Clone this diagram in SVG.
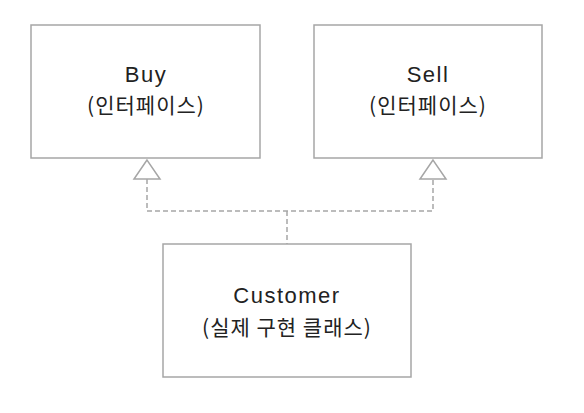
<svg xmlns="http://www.w3.org/2000/svg" width="584" height="413" viewBox="0 0 584 413">
<style>
.box{fill:#fff;stroke:#a6a6a6;stroke-width:1.5}
.t{font-family:"Noto Sans CJK KR","Liberation Sans",sans-serif;font-size:21px;font-weight:400;fill:#222;text-anchor:middle;letter-spacing:1px}
.lat{font-family:"Liberation Sans","Noto Sans CJK KR",sans-serif;font-size:22px;letter-spacing:1.5px}
.dash{fill:none;stroke:#a6a6a6;stroke-width:1.5;stroke-dasharray:5 3}
.tri{fill:#fff;stroke:#a6a6a6;stroke-width:1.5}
</style>
<rect width="584" height="413" fill="#fff"/>
<g id="connectors">
<path class="dash" d="M147 179 V211 H433 V179"/>
<path class="dash" d="M287 211 V244"/>
<polygon class="tri" points="147,160 134,179 160,179"/>
<polygon class="tri" points="433,160 420,179 446,179"/>
</g>
<g id="buy">
<rect class="box" x="31" y="25" width="229" height="133"/>
<text class="t lat" x="146" y="82">Buy</text>
<text class="t" x="146" y="113">(인터페이스)</text>
</g>
<g id="sell">
<rect class="box" x="314" y="25" width="228" height="133"/>
<text class="t lat" x="428" y="82">Sell</text>
<text class="t" x="428" y="113">(인터페이스)</text>
</g>
<g id="customer">
<rect class="box" x="163" y="244" width="248" height="133"/>
<text class="t lat" x="287" y="303">Customer</text>
<text class="t" x="287" y="335">(실제 구현 클래스)</text>
</g>
</svg>
